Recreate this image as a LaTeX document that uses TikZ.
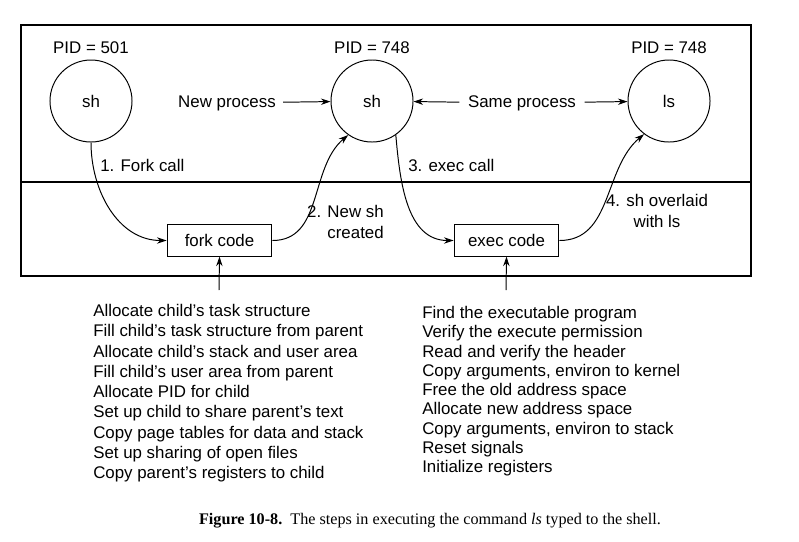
\documentclass[tikz,border=0pt]{standalone}
\usepackage{fontspec}
\setmainfont{Liberation Sans}
\newfontfamily\capfont{Liberation Serif}
\usetikzlibrary{arrows.meta,positioning}
\tikzset{
    proc/.style={circle, draw, minimum size=2.05cm, inner sep=0pt, line width=0.7pt, font=\fontsize{12}{14.4}\selectfont},
    codebox/.style={rectangle, draw, minimum width=2.62cm, minimum height=0.78cm, line width=0.7pt, font=\fontsize{12}{14.4}\selectfont},
    edge/.style={draw, line width=0.7pt, -{Stealth[length=2.4mm, width=1.6mm]}},
    txt/.style={font=\fontsize{12}{14.4}\selectfont, inner sep=0pt},
    steps/.style={txt, align=left, anchor=north west}
}
\begin{document}
\begin{tikzpicture}[x=0.025cm, y=-0.025cm]
    \useasboundingbox (0,0) rectangle (799,541);
    % frame: user space above, kernel below
    \draw[line width=0.8pt] (21,25) rectangle (751,276);
    \draw[line width=0.8pt] (21,182) -- (751,182);

    % Nodes
    \node[proc] (parent) at (91,101) {sh};
    \node[proc] (child) at (372,101) {sh};
    \node[proc] (lsproc) at (669,101) {ls};
    \node[txt] (pid1) at (91,48) {PID = 501};
    \node[txt] (pid2) at (372,48) {PID = 748};
    \node[txt] (pid3) at (669,48) {PID = 748};
    \node[txt, inner sep=5pt] (newproc) at (227,103) {New process};
    \node[txt, inner sep=6pt] (sameproc) at (522,103) {Same process};
    \node[codebox] (fork) at (219.5,240.5) {fork code};
    \node[codebox] (exec) at (506.5,240.5) {exec code};
    \node[txt, anchor=west] (step1) at (100,165) {1. Fork call};
    \node[txt, align=right, anchor=east] (step2) at (384,222) {2. New sh\\created};
    \node[txt, anchor=west] (step3) at (408,165) {3. exec call};
    \node[txt, align=center] (step4) at (657,211) {4. sh overlaid\\with ls};
    \coordinate (forkin) at (219,290);
    \coordinate (execin) at (506,290);

    % lists of work done in the kernel
    \node[steps, font=\fontsize{12}{14.4}\selectfont] (forklist) at (93,304) {Allocate child's task structure\\
        Fill child's task structure from parent\\
        Allocate child's stack and user area\\
        Fill child's user area from parent\\
        Allocate PID for child\\
        Set up child to share parent's text\\
        Copy page tables for data and stack\\
        Set up sharing of open files\\
        Copy parent's registers to child};
    \node[steps, font=\fontsize{12}{13.7}\selectfont] (execlist) at (422,306) {Find the executable program\\
        Verify the execute permission\\
        Read and verify the header\\
        Copy arguments, environ to kernel\\
        Free the old address space\\
        Allocate new address space\\
        Copy arguments, environ to stack\\
        Reset signals\\
        Initialize registers};

    % edges
    \draw[edge] (newproc) -- (child);
    \draw[edge] (sameproc) -- (child);
    \draw[edge] (sameproc) -- (lsproc);
    \draw[edge] (parent.south) to[out=-90, in=180] (fork.west);
    \draw[edge] (fork.east) to[out=0, in=220] (child.235);
    \draw[edge] (child.305) to[out=-85, in=180] (exec.west);
    \draw[edge] (exec.east) to[out=0, in=220] (lsproc.233);
    \draw[edge] (forkin) -- (fork.south);
    \draw[edge] (execin) -- (exec.south);

    % caption
    \node[font=\capfont\fontsize{11.5}{13}\selectfont] (caption) at (430,521)
        {\textbf{Figure 10-8.}\ \ The steps in executing the command \textit{ls} typed to the shell.};
\end{tikzpicture}
\end{document}
